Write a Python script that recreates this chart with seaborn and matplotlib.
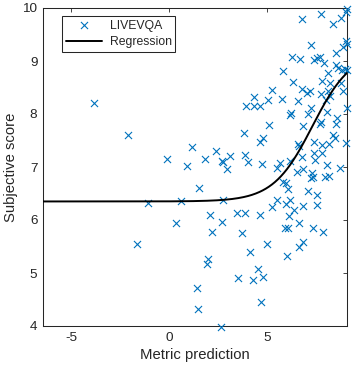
import numpy as np
import pandas as pd
import matplotlib
matplotlib.use("Agg")
import matplotlib.pyplot as plt
import seaborn as sns

sns.set_style("white")
plt.rcParams["font.family"] = ["Liberation Sans", "DejaVu Sans"]
plt.rcParams["axes.unicode_minus"] = False

# scatter values (metric prediction, subjective score)
metric = [
    -3.82, -2.09, -1.63, -1.07, -0.10, 0.34, 0.58, 0.89, 1.17, 1.40, 1.48, 1.53,
    1.82, 1.94, 1.99, 2.08, 2.19, 2.37, 2.64, 2.67, 2.69, 2.72, 2.76, 2.96,
    3.10, 3.47, 3.52, 3.72, 3.83, 3.86, 3.86, 3.91, 4.00,
    6.79, 7.74, 8.37, 8.74, 9.08, 9.03, 7.23, 6.28, 6.67, 7.40, 7.52, 7.69,
    7.89, 8.51, 8.88, 9.00, 9.05, 5.82, 8.51, 8.63, 8.80, 8.96, 9.08, 8.11,
    6.33, 6.76, 7.01, 7.18, 7.78, 8.20, 7.72, 8.11, 8.20, 8.74, 8.85, 8.00,
    5.26, 4.32, 5.05, 5.73, 6.58, 4.32, 4.63, 7.23, 9.05,
    6.15, 6.20, 7.09, 8.54, 8.51, 7.74, 7.69, 5.10, 6.84, 4.63, 4.80, 4.71,
    6.58, 6.63, 7.40, 7.78, 8.16, 7.40, 7.78, 8.37, 8.45, 9.00, 6.76, 6.16,
    5.65, 5.48, 6.53, 6.84, 7.43, 8.03, 8.71, 7.27, 7.35, 7.23, 7.95, 8.16,
    5.82, 5.95, 6.08, 7.09, 7.52, 5.48, 6.16, 5.95, 5.22, 6.84, 7.55, 6.36,
    6.12, 4.63, 6.63, 8.06,
    5.91, 6.04, 7.35, 7.86, 4.12, 5.00, 6.84, 6.63, 5.99, 4.54, 4.80, 4.29,
    4.66,
]
subjective = [
    8.20, 7.60, 5.55, 6.32, 7.16, 5.94, 6.36, 7.02, 7.37, 4.71, 4.32, 6.60,
    7.15, 5.17, 5.26, 6.09, 5.77, 7.31, 3.99, 5.97, 7.12, 7.09, 6.38, 6.97,
    7.21, 6.13, 4.90, 5.75, 7.65, 7.23, 6.13, 8.16, 7.09,
    9.79, 9.88, 9.69, 9.81, 9.98, 9.92, 9.31, 9.08, 9.03, 9.02, 9.05, 9.07,
    8.97, 9.16, 9.27, 9.37, 9.33, 8.81, 8.92, 8.86, 8.83, 8.84, 8.83, 8.77,
    8.61, 8.48, 8.40, 8.44, 8.63, 8.58, 8.37, 8.43, 8.34, 8.58, 8.43, 8.26,
    8.45, 8.33, 8.26, 8.28, 8.25, 8.15, 8.15, 8.11, 8.12,
    7.98, 8.02, 8.00, 7.92, 7.82, 7.85, 7.81, 7.80, 7.77, 7.48, 7.54, 7.06,
    7.43, 7.40, 7.47, 7.42, 7.43, 7.27, 7.27, 7.60, 7.54, 7.45, 7.19, 7.12,
    7.07, 6.99, 6.90, 6.97, 7.13, 7.04, 6.99, 6.88, 6.82, 6.80, 6.81, 6.83,
    6.72, 6.70, 6.58, 6.55, 6.48, 6.38, 6.38, 6.30, 6.24, 6.26, 6.28, 6.18,
    6.08, 6.09, 5.95, 8.04,
    5.84, 5.84, 5.84, 5.77, 5.40, 5.54, 5.58, 5.49, 5.32, 5.07, 4.92, 4.87,
    4.46,
]

# logistic regression parameters estimated from the drawn curve
fit_low = 6.35
fit_span = 2.84
fit_mid = 7.3
fit_scale = 1.0

x_limits = (-6.44, 9.08)
x_ticks = [-5, 0, 5]
y_ticks = [4, 5, 6, 7, 8, 9, 10]

df = pd.DataFrame({"metric": metric, "subjective": subjective})
curve_x = np.linspace(x_limits[0], x_limits[1], 400)
curve_y = fit_low + fit_span / (1 + np.exp(-(curve_x - fit_mid) / fit_scale))

dark = "#262626"
fig = plt.figure(figsize=(3.54, 3.73), dpi=100)
ax = fig.add_axes([43 / 354, 47 / 373, 304.3 / 354, 318 / 373])

sns.scatterplot(data=df, x="metric", y="subjective", marker="x", color="#0072BD",
                s=26, linewidth=0.8, label="LIVEVQA", ax=ax, clip_on=False, zorder=3)
sns.lineplot(x=curve_x, y=curve_y, color="black", linewidth=1.4, label="Regression",
             ax=ax, zorder=4)

ax.set_xlim(*x_limits)
ax.set_ylim(4, 10)
ax.set_xticks(x_ticks)
ax.set_yticks(y_ticks)
ax.set_xlabel("Metric prediction", fontsize=10.7, color=dark, labelpad=3)
ax.set_ylabel("Subjective score", fontsize=10.7, color=dark, labelpad=3)
ax.tick_params(direction="in", top=True, right=True, length=3, width=0.6,
               labelsize=9.7, colors=dark, pad=4)
for sp in ax.spines.values():
    sp.set_color(dark)
    sp.set_linewidth(0.75)

leg = ax.legend(loc="upper left", bbox_to_anchor=(62 / 354, 1 - 16 / 373),
                bbox_transform=fig.transFigure, borderaxespad=0, fontsize=8.8,
                frameon=True, fancybox=False, framealpha=1, edgecolor=dark,
                handlelength=3.0, handletextpad=0.6, borderpad=0.3, labelspacing=0.35)
leg.get_frame().set_linewidth(0.75)

fig.savefig("out.png", dpi=100)
